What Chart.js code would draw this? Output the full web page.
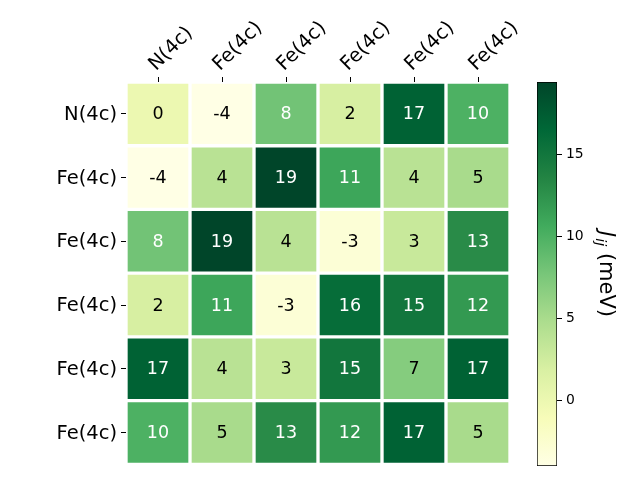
<!DOCTYPE html>
<html>
<head>
<meta charset="utf-8">
<script src="https://cdn.jsdelivr.net/npm/chart.js@4.4.0/dist/chart.umd.min.js"></script>
<style>
  body { margin: 0; background: #fff; }
  #wrap { position: relative; width: 640px; height: 480px; }
  canvas { position: absolute; left: 0; top: 0; }
</style>
</head>
<body>
<div id="wrap">
  <canvas id="heat" width="640" height="480"></canvas>
  <canvas id="cbar" width="640" height="480"></canvas>
</div>
<script>
const rowLabels = ["N(4c)", "Fe(4c)", "Fe(4c)", "Fe(4c)", "Fe(4c)", "Fe(4c)"];
const colLabels = ["N(4c)", "Fe(4c)", "Fe(4c)", "Fe(4c)", "Fe(4c)", "Fe(4c)"];

const row0 = [0, -4, 8, 2, 17, 10];
const row1 = [-4, 4, 19.4, 11, 4, 5];
const row2 = [8, 19.4, 4, -3, 3, 13];
const row3 = [2, 11, -3, 16, 15, 12];
const row4 = [17, 4, 3, 15, 7, 17];
const row5 = [10, 5, 13, 12, 17, 5];
const jij = [row0, row1, row2, row3, row4, row5];

const cbMin = -4;
const cbMax = 19.4;
const cbTicks = [0, 5, 10, 15];

// matplotlib YlGn
const ylgn = ["#ffffe5", "#f7fcb9", "#d9f0a3", "#addd8e", "#78c679",
              "#41ab5d", "#238443", "#006837", "#004529"];

function hex2rgb(h) {
  return [parseInt(h.slice(1, 3), 16), parseInt(h.slice(3, 5), 16), parseInt(h.slice(5, 7), 16)];
}
function cmap(v) {
  let t = (v - cbMin) / (cbMax - cbMin);
  t = Math.max(0, Math.min(1, t));
  const p = t * (ylgn.length - 1);
  const i = Math.min(Math.floor(p), ylgn.length - 2);
  const f = p - i;
  const a = hex2rgb(ylgn[i]), b = hex2rgb(ylgn[i + 1]);
  const c = a.map((x, k) => Math.round(x + (b[k] - x) * f));
  return "rgb(" + c.join(",") + ")";
}

const FONT = "'DejaVu Sans', sans-serif";

const annotate = {
  id: "annotate",
  afterDatasetsDraw(chart) {
    const ctx = chart.ctx;
    ctx.save();
    ctx.font = "17.5px " + FONT;
    ctx.textAlign = "center";
    ctx.textBaseline = "middle";
    chart.data.datasets.forEach((ds, j) => {
      chart.getDatasetMeta(j).data.forEach((bar, i) => {
        const v = jij[i][j];
        const p = bar.getCenterPoint();
        const t = (v - cbMin) / (cbMax - cbMin);
        ctx.fillStyle = t > 0.5 ? "#ffffff" : "#000000";
        ctx.fillText(String(Math.round(v)), p.x, p.y + 1);
      });
    });
    ctx.restore();
  }
};

new Chart(document.getElementById("heat"), {
  type: "bar",
  data: {
    labels: rowLabels,
    datasets: colLabels.map((c, j) => ({
      label: c,
      data: rowLabels.map(() => 1),
      backgroundColor: rowLabels.map((r, i) => cmap(jij[i][j])),
      borderColor: "#ffffff",
      borderWidth: 2,
      borderSkipped: false,
      barPercentage: 1,
      categoryPercentage: 1
    }))
  },
  options: {
    indexAxis: "y",
    responsive: false,
    animation: false,
    events: [],
    layout: { padding: { left: 0, top: 0, right: 130, bottom: 14 } },
    plugins: { legend: { display: false }, tooltip: { enabled: false } },
    scales: {
      x: { display: false, stacked: true, min: 0, max: 6 },
      top: {
        type: "category",
        position: "top",
        labels: colLabels,
        offset: true,
        border: { display: false },
        grid: { offset: false, drawOnChartArea: false, tickLength: 5, color: "#000" },
        ticks: { color: "#000", font: { family: FONT, size: 19.5 }, padding: 1, labelOffset: 11, minRotation: 45, maxRotation: 45 },
        afterFit(s) { s.height = 82; }
      },
      y: {
        stacked: true,
        border: { display: false },
        grid: { offset: false, drawOnChartArea: false, tickLength: 5, color: "#000" },
        ticks: { color: "#000", font: { family: FONT, size: 19.5 }, padding: 4, labelOffset: 1 },
        afterFit(s) { s.width = 126; }
      }
    }
  },
  plugins: [annotate]
});

const cbTitle = {
  id: "cbTitle",
  afterDraw(chart) {
    const ctx = chart.ctx;
    const a = chart.chartArea;
    ctx.save();
    ctx.translate(605, (a.top + a.bottom) / 2);
    ctx.rotate(Math.PI / 2);
    ctx.fillStyle = "#000";
    ctx.textBaseline = "middle";
    const big = "21px " + FONT, bigIt = "italic 21px " + FONT, sub = "italic 14.5px " + FONT;
    ctx.font = bigIt; const wJ = ctx.measureText("J").width;
    ctx.font = sub; const wS = ctx.measureText("ij").width;
    ctx.font = big; const wR = ctx.measureText(" (meV)").width;
    let x = -(wJ + wS + 1 + wR) / 2;
    ctx.font = bigIt; ctx.fillText("J", x, 0); x += wJ + 1;
    ctx.font = sub; ctx.fillText("ij", x, 5); x += wS;
    ctx.font = big; ctx.fillText(" (meV)", x, 0);
    ctx.restore();
  }
};

new Chart(document.getElementById("cbar"), {
  type: "bar",
  data: {
    labels: ["cb"],
    datasets: [{
      data: [[cbMin, cbMax]],
      backgroundColor(c) {
        const a = c.chart.chartArea;
        if (!a) return ylgn[0];
        const g = c.chart.ctx.createLinearGradient(0, a.bottom, 0, a.top);
        ylgn.forEach((col, k) => g.addColorStop(k / (ylgn.length - 1), col));
        return g;
      },
      borderColor: "#000",
      borderWidth: 1,
      borderSkipped: false,
      barPercentage: 1,
      categoryPercentage: 1
    }]
  },
  options: {
    responsive: false,
    animation: false,
    events: [],
    layout: { padding: { left: 537, top: 82, right: 0, bottom: 14 } },
    plugins: { legend: { display: false }, tooltip: { enabled: false } },
    scales: {
      x: { display: false },
      y: {
        position: "right",
        min: cbMin,
        max: cbMax,
        afterBuildTicks(s) { s.ticks = cbTicks.map(v => ({ value: v })); },
        border: { display: false },
        grid: { drawOnChartArea: false, tickLength: 5, color: "#000" },
        ticks: { color: "#000", font: { family: FONT, size: 13.9 }, padding: 4 },
        afterFit(s) { s.width = 83; }
      }
    }
  },
  plugins: [cbTitle]
});
</script>
</body>
</html>
